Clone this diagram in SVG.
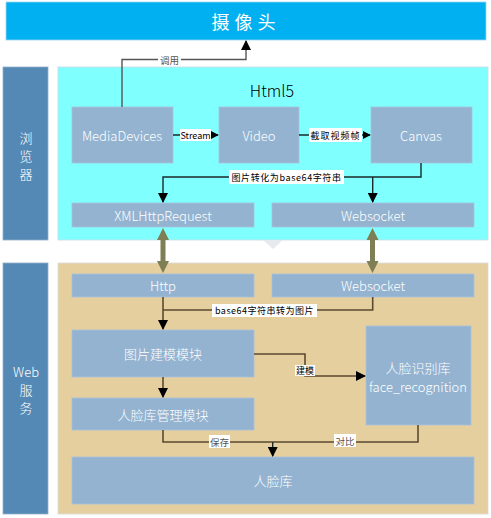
<svg xmlns="http://www.w3.org/2000/svg" width="491" height="518" viewBox="0 0 491 518">
<defs>
<style>
text{font-family:"Microsoft YaHei","Noto Sans CJK SC","Noto Sans",sans-serif;text-anchor:middle;dominant-baseline:central}
.box{fill:#93B3D0;stroke:#A9C2DA;stroke-width:0.8}
.bt{fill:#fff;font-size:13px;font-weight:300}
.side{fill:#5589B5;stroke:#8FAECB;stroke-width:0.8}
.st{fill:#fff;font-size:13px;font-weight:300}
.ln{fill:none;stroke:#1a2a2a;stroke-width:1.4}
.ln2{fill:none;stroke:#5b4a30;stroke-width:1.6}
.lb{fill:#fff}
.lt{fill:#000;font-size:9px}
.lg{fill:#555;font-size:9.5px}
.dbl{fill:#7F7F55}
</style>
<marker id="ah" viewBox="0 0 10 10" refX="9" refY="5" markerWidth="8" markerHeight="8" markerUnits="userSpaceOnUse" orient="auto"><path d="M0,0L10,5L0,10z" fill="#000"/></marker>
<marker id="ah2" viewBox="0 0 10 10" refX="9" refY="5" markerWidth="10" markerHeight="10" markerUnits="userSpaceOnUse" orient="auto"><path d="M0,0L10,5L0,10z" fill="#000"/></marker>
</defs>
<rect width="491" height="518" fill="#fff"/>

<g id="camera">
<rect x="6" y="2" width="480" height="38" fill="#00B0F0" stroke="#9BD7EE" stroke-width="0.8"/>
<text x="246" y="21" fill="#fff" font-size="18" letter-spacing="5">摄像头</text>
</g>

<g id="browser-label">
<rect class="side" x="3" y="67" width="45" height="173"/>
<text class="st" x="26" y="137">浏</text>
<text class="st" x="26" y="155">览</text>
<text class="st" x="26" y="173">器</text>
</g>

<g id="web-label">
<rect class="side" x="3" y="263" width="45" height="251"/>
<text class="st" x="26" y="371" font-size="12">Web</text>
<text class="st" x="26" y="389" font-size="12.5">服</text>
<text class="st" x="26" y="407" font-size="12.5">务</text>
</g>

<g id="html5-panel">
<rect x="58" y="67" width="430" height="173" fill="#80FFFF" stroke="#C9D9E3" stroke-width="0.8"/>
<text x="272" y="90" fill="#000" font-size="16" font-weight="300">Html5</text>
</g>
<g id="web-panel">
<rect x="58" y="263" width="430" height="251" fill="#E5CF9F" stroke="#D9D9D9" stroke-width="0.8"/>
</g>
<path d="M263,240L283,240L273,249z" fill="#E6E9EE"/>

<g id="mediadevices"><rect class="box" x="72" y="107" width="101" height="56"/><text class="bt" x="122" y="135">MediaDevices</text></g>
<g id="video"><rect class="box" x="219" y="107" width="80" height="56"/><text class="bt" x="259" y="135">Video</text></g>
<g id="canvas"><rect class="box" x="371" y="107" width="101" height="56"/><text class="bt" x="421" y="135">Canvas</text></g>
<g id="xhr"><rect class="box" x="72" y="203" width="182" height="24"/><text class="bt" x="163" y="215">XMLHttpRequest</text></g>
<g id="websocket-client"><rect class="box" x="272" y="203" width="202" height="24"/><text class="bt" x="373" y="215">Websocket</text></g>

<g id="http"><rect class="box" x="72" y="274" width="182" height="23"/><text class="bt" x="163" y="285.5">Http</text></g>
<g id="websocket-server"><rect class="box" x="272" y="274" width="202" height="23"/><text class="bt" x="373" y="285.5">Websocket</text></g>
<g id="modeling"><rect class="box" x="72" y="330" width="182" height="47"/><text class="bt" x="163" y="353" font-size="15">图片建模模块</text></g>
<g id="manage"><rect class="box" x="72" y="398" width="182" height="32"/><text class="bt" x="163" y="414" font-size="15">人脸库管理模块</text></g>
<g id="face-recognition"><rect class="box" x="366" y="326" width="105" height="99"/><text class="bt" x="418" y="367" font-size="14">人脸识别库</text><text class="bt" x="418" y="386">face_recognition</text></g>
<g id="facedb"><rect class="box" x="72" y="457" width="402" height="47"/><text class="bt" x="273" y="480" font-size="15">人脸库</text></g>

<g id="connectors">
<path d="M122,107V59.5H246V41" fill="none" stroke="#555" stroke-width="1.4" marker-end="url(#ah2)"/>
<rect class="lb" x="158" y="53" width="23" height="13"/>
<text class="lg" x="169.5" y="59.5">调用</text>

<path class="ln" d="M173,135H218" marker-end="url(#ah)"/>
<rect class="lb" x="180" y="129" width="31" height="12"/>
<text class="lt" x="195.5" y="135">Stream</text>

<path class="ln" d="M299,135H370" marker-end="url(#ah)"/>
<rect class="lb" x="309" y="128" width="53" height="14"/>
<text class="lt" x="335.5" y="135" font-size="10" letter-spacing="1">截取视频帧</text>

<path class="ln" d="M421,163V177H163V202" marker-end="url(#ah2)"/>
<path class="ln" d="M372.7,177V202" marker-end="url(#ah2)"/>
<rect class="lb" x="229" y="170" width="115" height="14"/>
<text class="lt" x="286.5" y="177" font-size="10" letter-spacing="0.6">图片转化为base64字符串</text>

<path class="dbl" d="M163,228L169,240H165.5V261H169L163,273L157,261H160.5V240H157z"/>
<path class="dbl" d="M372.5,228L378.5,240H375V261H378.5L372.5,273L366.5,261H370V240H366.5z"/>

<path class="ln2" d="M163,297V329" marker-end="url(#ah2)"/>
<path class="ln2" d="M372.7,297V310H163"/>
<rect class="lb" x="212" y="304" width="105" height="13"/>
<text class="lt" x="264.5" y="310.5" font-size="10" letter-spacing="0.5">base64字符串转为图片</text>

<path class="ln2" d="M254,354H305V376H365" marker-end="url(#ah2)"/>
<rect class="lb" x="295" y="365" width="20" height="11"/>
<text class="lt" x="305" y="370.5" font-size="10">建模</text>

<path class="ln2" d="M163,377V397" marker-end="url(#ah2)"/>

<path class="ln2" d="M163,430V442H418V425"/>
<path class="ln" d="M272.7,442V456" marker-end="url(#ah2)"/>
<rect class="lb" x="209" y="435" width="21" height="13"/>
<text class="lg" x="219.5" y="442" font-size="10" fill="#444">保存</text>
<rect class="lb" x="334" y="434" width="22" height="13"/>
<text class="lg" x="345" y="441" font-size="10" fill="#444">对比</text>
</g>
</svg>
